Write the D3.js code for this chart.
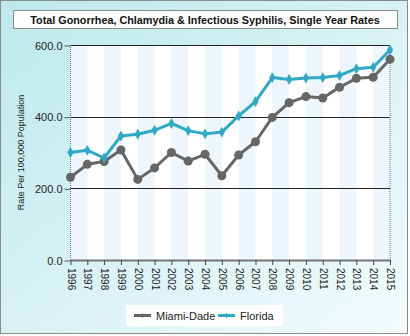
<!DOCTYPE html>
<html>
<head>
<meta charset="utf-8">
<script src="https://cdn.jsdelivr.net/npm/d3@7"></script>
<style>
  body { margin: 0; padding: 0; }
  svg { display: block; font-family: "Liberation Sans", Arial, sans-serif; }
</style>
</head>
<body>
<svg id="chart"></svg>
<script>
const years = ["1996","1997","1998","1999","2000","2001","2002","2003","2004","2005",
               "2006","2007","2008","2009","2010","2011","2012","2013","2014","2015"];
const miamiDade = [231, 267, 275, 307, 225, 257, 300, 276, 295, 235,
                   293, 330, 398, 439, 456, 452, 482, 507, 510, 560];
const florida = [300, 306, 285, 346, 351, 362, 381, 361, 352, 357,
                 402, 442, 509, 504, 508, 509, 515, 534, 538, 586];
const yTicks = [0, 200, 400, 600];
const seriesNames = ["Miami-Dade", "Florida"];
const seriesColors = ["#666666", "#2ea9c6"];

var width = 410, height = 336;
var margins = { top: 45, bottom: 76, left: 70.5, right: 20 };

const svg = d3.select("#chart")
    .attr("width", width)
    .attr("height", height);

// background gradient
var defs = svg.append("defs");
var grad = defs.append("linearGradient")
    .attr("id", "bg")
    .attr("x1", "0%").attr("y1", "0%")
    .attr("x2", "100%").attr("y2", "100%");
grad.append("stop").attr("offset", "0%").attr("stop-color", "#bce9ec");
grad.append("stop").attr("offset", "100%").attr("stop-color", "#f3fbfc");

svg.append("rect")
    .attr("x", 0.5).attr("y", 0.5)
    .attr("width", width - 3).attr("height", height - 3)
    .attr("fill", "url(#bg)")
    .attr("stroke", "#8a8a8a");

// title box
svg.append("rect")
    .attr("x", 13.5).attr("y", 10.5)
    .attr("width", 384).attr("height", 18)
    .attr("fill", "#fff")
    .attr("stroke", "#8a8a8a");
svg.append("text")
    .attr("x", 205).attr("y", 23.5)
    .attr("text-anchor", "middle")
    .attr("font-size", 10.8)
    .attr("font-weight", "bold")
    .attr("fill", "#111")
    .text("Total Gonorrhea, Chlamydia & Infectious Syphilis, Single Year Rates");

var x0 = margins.left, x1 = width - margins.right;
var yTop = margins.top, yBot = height - margins.bottom;

const x = d3.scalePoint().domain(years).range([x0, x1]);
const y = d3.scaleLinear().domain([0, 600]).range([yBot, yTop]);

// plot background and stripes
svg.append("rect")
    .attr("x", x0).attr("y", yTop)
    .attr("width", x1 - x0).attr("height", yBot - yTop)
    .attr("fill", "#fff");
svg.append("g")
    .selectAll("rect")
    .data(years.slice(0, -1).filter((d, i) => i % 2 == 0))
    .join("rect")
    .attr("x", d => x(d))
    .attr("y", yTop)
    .attr("width", x.step())
    .attr("height", yBot - yTop)
    .attr("fill", "#edf5fd");

// gridlines
svg.append("g")
    .selectAll("line")
    .data(yTicks.filter(d => d > 0))
    .join("line")
    .attr("x1", x0).attr("x2", x1)
    .attr("y1", d => Math.round(y(d)) + 0.5)
    .attr("y2", d => Math.round(y(d)) + 0.5)
    .attr("stroke", "#222")
    .attr("stroke-width", 1);

// dotted left and right borders
[x0, x1].forEach(xx => {
    svg.append("line")
        .attr("x1", xx).attr("x2", xx)
        .attr("y1", yTop).attr("y2", yBot)
        .attr("stroke", "#777")
        .attr("stroke-dasharray", "1,1");
});

// y axis
const yAxis = svg.append("g")
    .attr("transform", "translate(" + x0 + ",0.5)")
    .call(d3.axisLeft(y).tickValues(yTicks).tickFormat(d3.format(".1f")).tickSize(6).tickPadding(2));
yAxis.select(".domain").remove();
yAxis.selectAll(".tick line").attr("stroke", "#555");
yAxis.selectAll("text").attr("font-size", 11).attr("fill", "#222").attr("font-family", "Liberation Sans, Arial, sans-serif");

// x axis
const xAxis = svg.append("g")
    .attr("transform", "translate(0," + yBot + ")")
    .call(d3.axisBottom(x).tickSize(5).tickSizeOuter(0));
xAxis.select(".domain").attr("stroke", "#777").attr("stroke-width", 2);
xAxis.selectAll(".tick line").attr("stroke", "#444");
xAxis.selectAll("text")
    .attr("font-size", 10)
    .attr("fill", "#222")
    .attr("font-family", "Liberation Sans, Arial, sans-serif")
    .attr("transform", "rotate(90)")
    .attr("x", 8)
    .attr("y", 0)
    .attr("dy", "0.35em")
    .attr("text-anchor", "start");

// y label
svg.append("text")
    .attr("transform", "translate(24," + ((yTop + yBot) / 2) + ") rotate(-90)")
    .attr("text-anchor", "middle")
    .attr("font-size", 9)
    .attr("fill", "#222")
    .text("Rate Per 100,000 Population");

// lines
const line = d3.line()
    .x((d, i) => x(years[i]))
    .y(d => y(d));

[miamiDade, florida].forEach((s, k) => {
    svg.append("path")
        .datum(s)
        .attr("d", line)
        .attr("fill", "none")
        .attr("stroke", seriesColors[k])
        .attr("stroke-width", 3)
        .attr("stroke-linejoin", "round");
});

// markers
svg.append("g")
    .selectAll("circle")
    .data(miamiDade)
    .join("circle")
    .attr("cx", (d, i) => x(years[i]))
    .attr("cy", d => y(d))
    .attr("r", 4.5)
    .attr("fill", seriesColors[0]);

svg.append("g")
    .selectAll("path")
    .data(florida)
    .join("path")
    .attr("d", d3.symbol().type(d3.symbolDiamond).size(34))
    .attr("transform", (d, i) => "translate(" + x(years[i]) + "," + y(d) + ")")
    .attr("fill", seriesColors[1]);

// legend
var legend = svg.append("g");
legend.append("rect")
    .attr("x", 126).attr("y", 305)
    .attr("width", 157).attr("height", 21)
    .attr("fill", "#fff");
var legX = [134, 218];
seriesNames.forEach((n, k) => {
    legend.append("line")
        .attr("x1", legX[k]).attr("x2", legX[k] + 17)
        .attr("y1", 315.5).attr("y2", 315.5)
        .attr("stroke", seriesColors[k])
        .attr("stroke-width", 3);
    legend.append("text")
        .attr("x", legX[k] + 22).attr("y", 319.5)
        .attr("font-size", 11)
        .attr("fill", "#222")
        .text(n);
});
legend.append("circle")
    .attr("cx", legX[0] + 8.5).attr("cy", 315.5)
    .attr("r", 2).attr("fill", seriesColors[0]);
legend.append("path")
    .attr("d", d3.symbol().type(d3.symbolDiamond).size(10))
    .attr("transform", "translate(" + (legX[1] + 8.5) + ",315.5)")
    .attr("fill", seriesColors[1]);
</script>
</body>
</html>
